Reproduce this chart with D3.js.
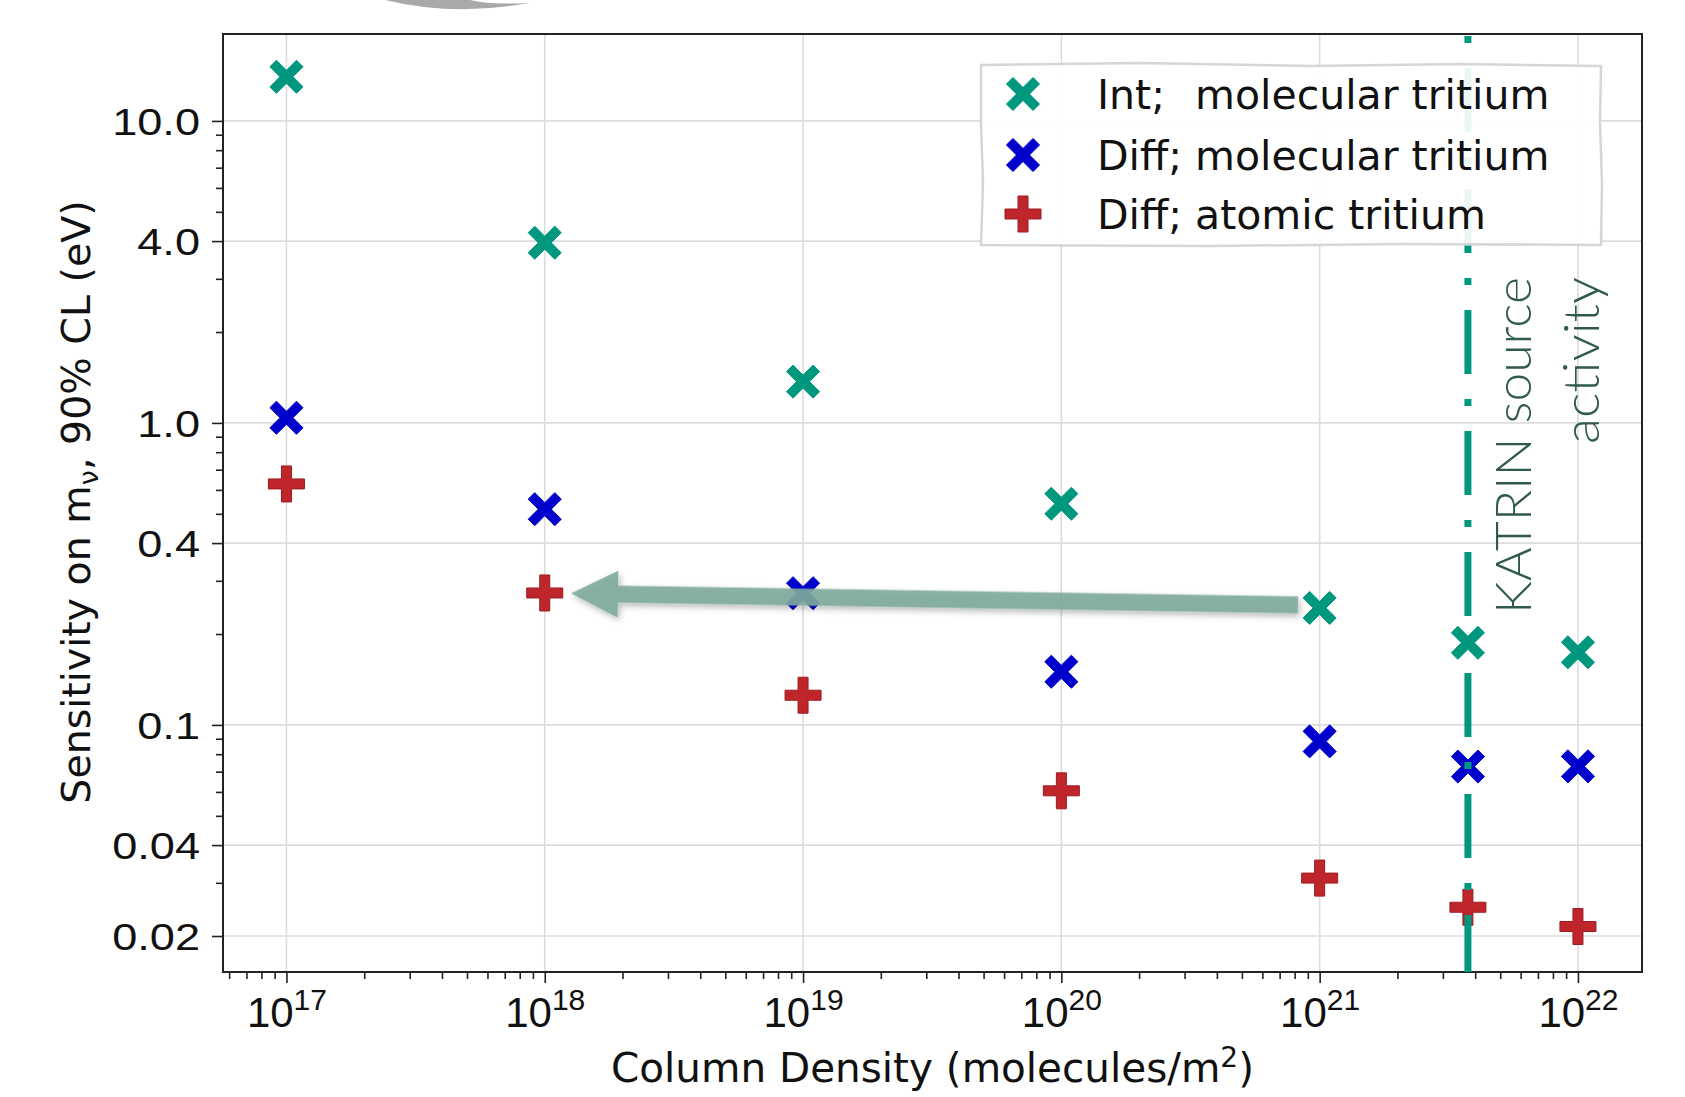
<!DOCTYPE html>
<html>
<head>
<meta charset="utf-8">
<script src="https://cdn.jsdelivr.net/npm/d3@7"></script>
<style>
  html, body { margin: 0; padding: 0; background: #fff; }
  svg { display: block; font-family: "DejaVu Sans", sans-serif; }
</style>
</head>
<body>
<svg id="chart" width="1685" height="1097"></svg>
<script>
// column density (molecules/m^2) and 90% CL sensitivity (eV)
const densities = [1e17, 1e18, 1e19, 1e20, 1e21, 3.75e21, 1e22];
const intMolecular = [14.0, 3.95, 1.37, 0.54, 0.244, 0.187, 0.174];
const diffMolecular = [1.04, 0.518, 0.273, 0.15, 0.0882, 0.0728, 0.0729];
const diffAtomic = [0.628, 0.2735, 0.1254, 0.0605, 0.0311, 0.0249, 0.0215];

const xTicks = [1e17, 1e18, 1e19, 1e20, 1e21, 1e22];
const xTickExps = ["17", "18", "19", "20", "21", "22"];
const yTicks = [0.02, 0.04, 0.1, 0.4, 1, 4, 10];
const yTickLabels = ["0.02", "0.04", "0.1", "0.4", "1.0", "4.0", "10.0"];

const legendPrefix = ["Int;", "Diff;", "Diff;"];
const legendRest = ["molecular tritium", "molecular tritium", "atomic tritium"];

// annotations
const katrinDensity = 3.75e21;
const katrinLines = ["KATRIN source", "activity"];
const arrowFrom = [8.24e20, 0.2497];
const arrowTo = [1.263e18, 0.2725];

const W = 1685, H = 1097;
const margin = { top: 34, right: 43, bottom: 125, left: 223 };

const svg = d3.select("#chart");

const x = d3.scaleLog().domain([5.68e16, 1.77e22]).range([margin.left, W - margin.right]);
const y = d3.scaleLog().domain([0.0152, 19.4]).range([H - margin.bottom, margin.top]);

const sameLog = (a, b) => Math.abs(Math.log10(a) - Math.log10(b)) < 1e-6;

/* ------- STRAY SHAPE AT TOP EDGE -------*/
svg.append("path")
  .attr("d", "M385,0 Q455,17 529,3 Q490,5 470,0 Z")
  .attr("fill", "#a9a9a9");

/* ------- GRID -------*/
const grid = svg.append("g").attr("class", "grid");
grid.selectAll("line.gx")
  .data(xTicks)
  .join("line")
  .attr("class", "gx")
  .attr("x1", d => x(d)).attr("x2", d => x(d))
  .attr("y1", margin.top).attr("y2", H - margin.bottom)
  .attr("stroke", "#dcdcdc")
  .attr("stroke-width", 1.6);
grid.selectAll("line.gy")
  .data(yTicks)
  .join("line")
  .attr("class", "gy")
  .attr("x1", margin.left).attr("x2", W - margin.right)
  .attr("y1", d => y(d)).attr("y2", d => y(d))
  .attr("stroke", "#dcdcdc")
  .attr("stroke-width", 1.6);

/* ------- AXES -------*/
const styleAxis = g => {
  g.select(".domain").remove();
  g.selectAll(".tick line").attr("stroke", "#222").attr("stroke-width", 1.6);
};

svg.append("g")
  .attr("transform", `translate(0,${H - margin.bottom})`)
  .call(d3.axisBottom(x).tickValues(x.ticks().filter(d => !xTicks.some(t => sameLog(t, d)))).tickSize(7).tickFormat(""))
  .call(styleAxis);

const xAxis = svg.append("g")
  .attr("transform", `translate(0,${H - margin.bottom})`)
  .call(d3.axisBottom(x).tickValues(xTicks).tickSize(11).tickFormat(""))
  .call(styleAxis);

xAxis.selectAll(".tick text").remove();
xAxis.selectAll(".tick")
  .append("text")
  .attr("y", 55)
  .attr("text-anchor", "middle")
  .attr("fill", "#111")
  .attr("font-size", 42)
  .each(function(d, i) {
    const t = d3.select(this);
    t.append("tspan").text("10");
    t.append("tspan").attr("dy", -17).attr("font-size", 30).text(xTickExps[i]);
  });

svg.append("g")
  .attr("transform", `translate(${margin.left},0)`)
  .call(d3.axisLeft(y).tickValues(y.ticks().filter(d => !yTicks.some(t => sameLog(t, d)))).tickSize(7).tickFormat(""))
  .call(styleAxis);

// the tick labels of the original are stretched sideways
svg.append("g")
  .attr("transform", `translate(${margin.left},0)`)
  .call(d3.axisLeft(y).tickValues(yTicks).tickSize(11).tickPadding(12)
    .tickFormat((d, i) => yTickLabels[i]))
  .call(styleAxis)
  .call(g => g.selectAll(".tick text")
    .attr("font-size", 37)
    .attr("fill", "#111")
    .attr("dy", "0.36em")
    .each(function() {
      this.setAttribute("textLength", this.getComputedTextLength() * 1.22);
      this.setAttribute("lengthAdjust", "spacingAndGlyphs");
    }));

svg.append("rect")
  .attr("x", margin.left).attr("y", margin.top)
  .attr("width", W - margin.left - margin.right)
  .attr("height", H - margin.top - margin.bottom)
  .attr("fill", "none")
  .attr("stroke", "#222")
  .attr("stroke-width", 2);

/* ------- AXIS TITLES -------*/
const xTitle = svg.append("text")
  .attr("x", (margin.left + W - margin.right) / 2)
  .attr("y", 1082)
  .attr("text-anchor", "middle")
  .attr("font-size", 40.5)
  .attr("fill", "#111");
xTitle.append("tspan").text("Column Density (molecules/m");
xTitle.append("tspan").attr("dy", -15).attr("font-size", 28).text("2");
xTitle.append("tspan").attr("dy", 15).text(")");

const yTitle = svg.append("text")
  .attr("transform", "translate(90,502) rotate(-90)")
  .attr("text-anchor", "middle")
  .attr("font-size", 39.5)
  .attr("fill", "#111");
yTitle.append("tspan").text("Sensitivity on m");
yTitle.append("tspan").attr("dy", 8).attr("font-size", 27).text("ν");
yTitle.append("tspan").attr("dy", -8).text(", 90% CL (eV)");

/* ------- MARKERS -------*/
const plusPoints = (len, arm) => [
  [arm, len], [arm, arm], [len, arm], [len, -arm], [arm, -arm], [arm, -len],
  [-arm, -len], [-arm, -arm], [-len, -arm], [-len, arm], [-arm, arm], [-arm, len]
];
const rotate45 = pts => pts.map(([a, b]) => [(a - b) * Math.SQRT1_2, (a + b) * Math.SQRT1_2]);
const toPath = pts => "M" + pts.map(p => p.join(",")).join("L") + "Z";

const xShape = toPath(rotate45(plusPoints(18.8, 4.6)));
const plusShape = toPath(plusPoints(18, 5));

const series = [
  { values: intMolecular, shape: xShape, fill: "#00977f", stroke: "#00977f" },
  { values: diffMolecular, shape: xShape, fill: "#0000cc", stroke: "#0000cc" },
  { values: diffAtomic, shape: plusShape, fill: "#bf262b", stroke: "#9c1b20" }
];

const marks = svg.append("g").attr("class", "marks");
series.forEach(s => {
  marks.append("g")
    .selectAll("path")
    .data(densities.map((d, i) => [d, s.values[i]]))
    .join("path")
    .attr("d", s.shape)
    .attr("transform", d => `translate(${x(d[0])},${y(d[1])})`)
    .attr("fill", s.fill)
    .attr("stroke", s.stroke)
    .attr("stroke-width", 1);
});

/* ------- KATRIN LINE -------*/
svg.append("line")
  .attr("x1", x(katrinDensity)).attr("x2", x(katrinDensity))
  .attr("y1", margin.top).attr("y2", H - margin.bottom)
  .attr("stroke", "#00977f")
  .attr("stroke-width", 7)
  .attr("stroke-dasharray", "64,25,7,25")
  .attr("stroke-dashoffset", 87);

/* ------- LEGEND -------*/
const legend = svg.append("g").attr("transform", "translate(981,63)");
legend.append("path")
  .attr("d", "M0,2 L160,0 L330,3 L480,1 L620,3 L619,60 L621,120 L620,182 L420,181 L230,183 L0,182 L2,120 L0,60 Z")
  .attr("fill", "#fff")
  .attr("fill-opacity", 0.92)
  .attr("stroke", "#d6d6d6")
  .attr("stroke-width", 2.5);

const rowY = [31, 92, 151];
series.forEach((s, i) => {
  legend.append("path")
    .attr("d", s.shape)
    .attr("transform", `translate(42,${rowY[i]})`)
    .attr("fill", s.fill)
    .attr("stroke", s.stroke);
});

const legendText = legend.selectAll("g.row")
  .data(legendPrefix)
  .join("g")
  .attr("class", "row")
  .attr("transform", (d, i) => `translate(116,${rowY[i]})`);

const prefixText = legendText.append("text")
  .attr("dy", "0.36em")
  .attr("font-size", 41)
  .attr("fill", "#111")
  .text(d => d);

// align the rest of every label after the widest prefix
const restX = d3.max(prefixText.nodes(), n => n.getComputedTextLength()) + 13;
legendText.append("text")
  .attr("x", restX)
  .attr("dy", "0.36em")
  .attr("font-size", 41)
  .attr("fill", "#111")
  .text((d, i) => legendRest[i]);

/* ------- ARROW -------*/
const defs = svg.append("defs");
defs.append("filter")
  .attr("id", "shadow")
  .attr("x", "-10%").attr("y", "-50%").attr("width", "120%").attr("height", "200%")
  .append("feDropShadow")
  .attr("dx", 2).attr("dy", 3)
  .attr("stdDeviation", 3)
  .attr("flood-color", "#000")
  .attr("flood-opacity", 0.3);

const tip = [x(arrowTo[0]), y(arrowTo[1])];
const tail = [x(arrowFrom[0]), y(arrowFrom[1])];
const len = Math.hypot(tail[0] - tip[0], tail[1] - tip[1]);
const angle = Math.atan2(tail[1] - tip[1], tail[0] - tip[0]) * 180 / Math.PI;
const headLen = 47, headHalf = 23.5, shaftHalf = 8.5;

svg.append("path")
  .attr("d", toPath([[0, 0], [headLen, -headHalf], [headLen, -shaftHalf], [len, -shaftHalf],
    [len, shaftHalf], [headLen, shaftHalf], [headLen, headHalf]]))
  .attr("transform", `translate(${tip[0]},${tip[1]}) rotate(${angle})`)
  .attr("fill", "#7eab9c")
  .attr("fill-opacity", 0.9)
  .attr("filter", "url(#shadow)");

/* ------- KATRIN LABEL -------*/
const katrinX = x(katrinDensity);
svg.selectAll("text.katrin")
  .data(katrinLines)
  .join("text")
  .attr("class", "katrin")
  .attr("transform", (d, i) => `translate(${katrinX + 63 + i * 68},277) rotate(-90)`)
  .attr("text-anchor", "end")
  .attr("font-family", "Lato, 'Open Sans', sans-serif")
  .attr("font-weight", 300)
  .attr("font-size", 50)
  .attr("fill", "#2f5a4c")
  .attr("textLength", (d, i) => [337, 167][i])
  .attr("lengthAdjust", "spacingAndGlyphs")
  .text(d => d);
</script>
</body>
</html>
